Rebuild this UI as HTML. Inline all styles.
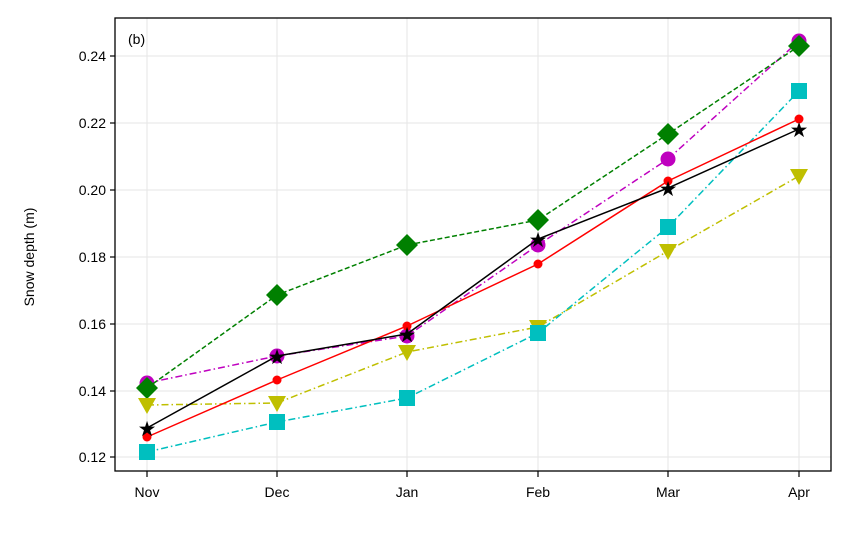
<!DOCTYPE html>
<html><head><meta charset="utf-8"><style>
html,body{margin:0;padding:0;background:#fff;}
svg text{font-family:"Liberation Sans",Arial,sans-serif;fill:#000;}
</style></head><body>
<svg width="852" height="532" viewBox="0 0 852 532" xmlns="http://www.w3.org/2000/svg">
<g stroke="#e6e6e6" stroke-width="1">
<line x1="115" x2="831" y1="56" y2="56"/><line x1="115" x2="831" y1="123" y2="123"/>
<line x1="115" x2="831" y1="190" y2="190"/><line x1="115" x2="831" y1="257" y2="257"/>
<line x1="115" x2="831" y1="324" y2="324"/><line x1="115" x2="831" y1="391" y2="391"/>
<line x1="115" x2="831" y1="457" y2="457"/>
<line x1="147" x2="147" y1="18" y2="471"/><line x1="277" x2="277" y1="18" y2="471"/>
<line x1="407" x2="407" y1="18" y2="471"/><line x1="538" x2="538" y1="18" y2="471"/>
<line x1="668" x2="668" y1="18" y2="471"/><line x1="799" x2="799" y1="18" y2="471"/>
</g>
<polyline fill="none" stroke="#bf00bf" stroke-width="1.5" stroke-dasharray="7,3,1.5,3" points="147,383 277,356 407,336 538,245 668,159 799,41"/>
<g fill="#bf00bf"><circle cx="147" cy="383" r="7.5"/><circle cx="277" cy="356" r="7.5"/><circle cx="407" cy="336" r="7.5"/><circle cx="538" cy="245" r="7.5"/><circle cx="668" cy="159" r="7.5"/><circle cx="799" cy="41" r="7.5"/></g>
<polyline fill="none" stroke="#008000" stroke-width="1.5" stroke-dasharray="5,2.5" points="147,388 277,295 407,245 538,220 668,134 799,46"/>
<g fill="#008000">
<path d="M147,377 L158,388 L147,399 L136,388Z"/><path d="M277,284 L288,295 L277,306 L266,295Z"/>
<path d="M407,234 L418,245 L407,256 L396,245Z"/><path d="M538,209 L549,220 L538,231 L527,220Z"/>
<path d="M668,123 L679,134 L668,145 L657,134Z"/><path d="M799,35 L810,46 L799,57 L788,46Z"/></g>
<polyline fill="none" stroke="#bfbf00" stroke-width="1.5" stroke-dasharray="7,3,1.5,3" points="147,405 277,403 407,352 538,327 668,251 799,176"/>
<g fill="#bfbf00">
<path d="M138,398 L156,398 L147,414Z"/><path d="M268,396 L286,396 L277,412Z"/><path d="M398,345 L416,345 L407,361Z"/>
<path d="M529,320 L547,320 L538,336Z"/><path d="M659,244 L677,244 L668,260Z"/><path d="M790,169 L808,169 L799,185Z"/></g>
<polyline fill="none" stroke="#00bfbf" stroke-width="1.5" stroke-dasharray="7,3,1.5,3" points="147,452 277,422 407,398 538,333 668,227 799,91"/>
<g fill="#00bfbf">
<rect x="139" y="444" width="16" height="16"/><rect x="269" y="414" width="16" height="16"/><rect x="399" y="390" width="16" height="16"/>
<rect x="530" y="325" width="16" height="16"/><rect x="660" y="219" width="16" height="16"/><rect x="791" y="83" width="16" height="16"/></g>
<polyline fill="none" stroke="#ff0000" stroke-width="1.5" points="147,437 277,380 407,326 538,264 668,181 799,119"/>
<g fill="#ff0000"><circle cx="147" cy="437" r="4.5"/><circle cx="277" cy="380" r="4.5"/><circle cx="407" cy="326" r="4.5"/><circle cx="538" cy="264" r="4.5"/><circle cx="668" cy="181" r="4.5"/><circle cx="799" cy="119" r="4.5"/></g>
<polyline fill="none" stroke="#000" stroke-width="1.5" points="147,428 277,356 407,334 538,239 668,188 799,129"/>
<g fill="#000" font-size="21" text-anchor="middle">
<text x="147" y="436" style="font-family:'DejaVu Sans'">★</text><text x="277" y="364" style="font-family:'DejaVu Sans'">★</text>
<text x="407" y="342" style="font-family:'DejaVu Sans'">★</text><text x="538" y="247" style="font-family:'DejaVu Sans'">★</text>
<text x="668" y="196" style="font-family:'DejaVu Sans'">★</text><text x="799" y="137" style="font-family:'DejaVu Sans'">★</text></g>
<rect x="115" y="18" width="716" height="453" fill="none" stroke="#000" stroke-width="1.3"/>
<g stroke="#000" stroke-width="1.2">
<line x1="110" x2="115" y1="56" y2="56"/><line x1="110" x2="115" y1="123" y2="123"/><line x1="110" x2="115" y1="190" y2="190"/>
<line x1="110" x2="115" y1="257" y2="257"/><line x1="110" x2="115" y1="324" y2="324"/><line x1="110" x2="115" y1="391" y2="391"/><line x1="110" x2="115" y1="457" y2="457"/>
<line x1="147" x2="147" y1="471" y2="477"/><line x1="277" x2="277" y1="471" y2="477"/><line x1="407" x2="407" y1="471" y2="477"/>
<line x1="538" x2="538" y1="471" y2="477"/><line x1="668" x2="668" y1="471" y2="477"/><line x1="799" x2="799" y1="471" y2="477"/>
</g>
<g font-size="14" text-anchor="end">
<text x="106" y="61">0.24</text><text x="106" y="128">0.22</text><text x="106" y="195">0.20</text><text x="106" y="262">0.18</text>
<text x="106" y="329">0.16</text><text x="106" y="396">0.14</text><text x="106" y="462">0.12</text></g>
<g font-size="14" text-anchor="middle">
<text x="147" y="497">Nov</text><text x="277" y="497">Dec</text><text x="407" y="497">Jan</text>
<text x="538" y="497">Feb</text><text x="668" y="497">Mar</text><text x="799" y="497">Apr</text></g>
<text x="128" y="44" font-size="14">(b)</text>
<text transform="translate(34,257) rotate(-90)" font-size="14" text-anchor="middle">Snow depth (m)</text>
</svg>
</body></html>
